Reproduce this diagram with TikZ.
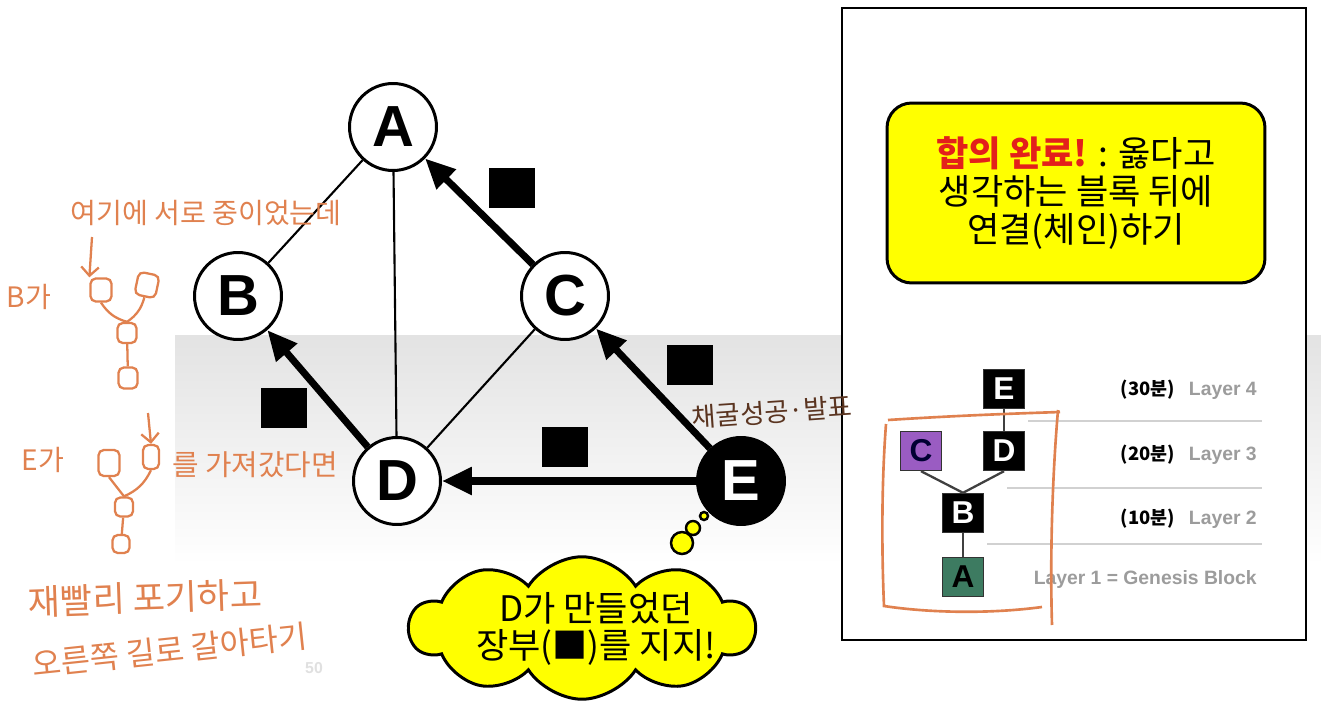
\documentclass[tikz,border=0pt]{standalone}
\usepackage{fontspec}
\setmainfont{Noto Sans CJK KR}
\newfontfamily\arialfont{Liberation Sans}
\usetikzlibrary{arrows.meta,positioning,shapes.symbols}
\definecolor{pen}{HTML}{E0814F}
\definecolor{penbrown}{HTML}{5A3420}
\definecolor{alarm}{HTML}{E3201B}
\definecolor{chainpurple}{HTML}{9A5CC2}
\definecolor{chaingreen}{HTML}{3D7B61}
\definecolor{boxyellow}{HTML}{FFFF00}
\definecolor{layergray}{HTML}{9C9C9C}
\newcommand{\minutetxt}[1]{{\color{black}\normalfont\bfseries\fontsize{10.5}{12}\selectfont #1}}
\tikzset{
  peer/.style={circle, draw, line width=1.7pt, fill=white, minimum size=1.74cm,
               inner sep=0pt, font=\arialfont\bfseries\fontsize{33}{33}\selectfont},
  ledger/.style={fill=black, minimum width=0.92cm, minimum height=0.8cm, inner sep=0pt},
  link/.style={line width=1.2pt},
  flowarrow/.style={line width=4pt, -{Triangle[length=17pt, width=15pt]}},
  block/.style={draw=black!80, line width=0.8pt, fill=black, text=white,
                minimum width=0.82cm, minimum height=0.78cm, inner sep=0pt,
                font=\arialfont\bfseries\fontsize{18}{18}\selectfont},
  chainlink/.style={line width=1.3pt, black!75},
  layer/.style={anchor=east, inner sep=0pt, text=layergray,
                font=\arialfont\bfseries\fontsize{11}{13}\selectfont},
  sep/.style={black!18, line width=1pt},
  consensus/.style={draw, line width=1.7pt, fill=boxyellow, rounded corners=14pt,
                    minimum width=7.56cm, minimum height=3.6cm, align=center,
                    font=\fontsize{20}{21.5}\selectfont},
  thought/.style={cloud, cloud puffs=10, cloud puff arc=115, cloud ignores aspect,
                  draw, line width=1.7pt, fill=boxyellow, minimum width=6.9cm,
                  minimum height=2.85cm, inner sep=0pt},
  thoughttext/.style={align=center, inner sep=0pt, font=\fontsize{20}{21}\selectfont},
  bubble/.style={circle, draw, line width=1.4pt, fill=boxyellow, inner sep=0pt},
  hand/.style={text=pen, inner sep=0pt},
  sketch/.style={draw=pen, line width=1.3pt, minimum width=0.42cm,
                 minimum height=0.46cm, inner sep=0pt, rounded corners=3pt},
  sketchline/.style={pen, line width=1.3pt}
}

\begin{document}
\begin{tikzpicture}[x=0.02cm, y=-0.02cm]
  \useasboundingbox (0,0) rectangle (1321,726);
  \shade[top color=black!11, bottom color=white] (175,335) rectangle (1321,565);

  \node[peer] (a) at (393,127) {A};
  \node[peer] (b) at (238,296) {B};
  \node[peer] (c) at (565,296) {C};
  \node[peer] (d) at (397,481) {D};
  \node[peer, fill=black, text=white] (e) at (741,481) {E};
  \draw[link] (a) -- (b);
  \draw[link] (a) -- (d);
  \draw[link] (c) -- (d);
  \draw[flowarrow] (c) -- (a);
  \draw[flowarrow] (d) -- (b);
  \draw[flowarrow] (e) -- (c);
  \draw[flowarrow] (e) -- (d);
  \node[ledger] (l1) at (512,188) {};
  \node[ledger] (l2) at (284,408) {};
  \node[ledger] (l3) at (690,365) {};
  \node[ledger] (l4) at (565,447) {};

  \node[bubble, minimum size=0.44cm] (p1) at (682,543) {};
  \node[bubble, minimum size=0.28cm] (p2) at (693,528) {};
  \node[bubble, minimum size=0.16cm] (p3) at (704,516) {};
  \node[thought] (idea) at (582,628) {};
  \node[thoughttext] (ideatext) at (596,629) {D가 만들었던\\장부(■)를 지지!};

  \draw[line width=1.5pt, fill=white] (842,8) rectangle (1306,640);
  \node[consensus] (goal) at (1076,193)
    {{\bfseries\color{alarm}합의 완료!} : 옳다고\\생각하는 블록 뒤에\\연결(체인)하기};

  \draw[sep] (1028,421) -- (1262,421);
  \draw[sep] (1007,488) -- (1262,488);
  \draw[sep] (987,544) -- (1262,544);
  \node[block] (ke) at (1004,389) {E};
  \node[block, fill=chainpurple, text=black!80!blue] (kc) at (921,451) {C};
  \node[block] (kd) at (1004,451) {D};
  \node[block] (kb) at (963,513) {B};
  \node[block, fill=chaingreen, text=black] (ka) at (963,577) {A};
  \draw[chainlink] (ke) -- (kd);
  \draw[chainlink] (kc.south) -- (kb.north);
  \draw[chainlink] (kd.south) -- (kb.north);
  \draw[chainlink] (kb) -- (ka);
  \node[layer] (lay4) at (1257,390) {\minutetxt{(30분)}\hspace{8pt}Layer 4};
  \node[layer] (lay3) at (1257,455) {\minutetxt{(20분)}\hspace{8pt}Layer 3};
  \node[layer] (lay2) at (1257,519) {\minutetxt{(10분)}\hspace{8pt}Layer 2};
  \node[layer] (lay1) at (1257,579) {Layer 1 = Genesis Block};

  \draw[pen, line width=1.5pt] (888,420) .. controls (950,416) and (1000,414) .. (1060,412);
  \draw[pen, line width=1.5pt] (886,424) .. controls (881,490) and (882,560) .. (884,606)
    .. controls (930,613) and (990,614) .. (1042,607);
  \draw[pen, line width=1.5pt] (1058,410) .. controls (1052,480) and (1050,560) .. (1052,625);

  \node[text=penbrown, inner sep=0pt, rotate=4, font=\fontsize{15}{15}\selectfont]
    (mined) at (772,412) {채굴성공·발표};

  \node[hand, font=\fontsize{16}{16}\selectfont] (n1) at (206,213) {여기에 서로 중이었는데};
  \node[hand, font=\fontsize{16}{16}\selectfont] (n2) at (29,297) {B가};
  \node[sketch] (s1a) at (101,290) {};
  \node[sketch, rotate=-12] (s1b) at (147,285) {};
  \node[sketch, minimum width=0.38cm, minimum height=0.4cm] (s1c) at (127,333) {};
  \node[sketch, minimum width=0.38cm, minimum height=0.42cm] (s1d) at (128,378) {};
  \coordinate (s1top) at (92,237);
  \draw[sketchline, -{Straight Barb[length=5pt]}] (s1top) -- (s1a.north west);
  \draw[sketchline] (s1a.south) to[bend right=20] (s1c.north);
  \draw[sketchline] (s1b.south) to[bend left=20] (s1c.north);
  \draw[sketchline] (s1c) -- (s1d);

  \node[hand, font=\fontsize{16}{16}\selectfont] (n3) at (43,460) {E가};
  \node[sketch, minimum height=0.52cm] (s2a) at (109,463) {};
  \node[sketch, minimum width=0.32cm, minimum height=0.48cm] (s2b) at (151,457) {};
  \node[sketch, minimum width=0.36cm, minimum height=0.38cm] (s2c) at (124,507) {};
  \node[sketch, minimum width=0.34cm, minimum height=0.36cm] (s2d) at (121,544) {};
  \coordinate (s2top) at (148,413);
  \draw[sketchline, -{Straight Barb[length=5pt]}] (s2top) -- (s2b.north);
  \draw[sketchline] (s2a.south) -- (s2c.north);
  \draw[sketchline] (s2b.south) to[bend left=20] (s2c.north);
  \draw[sketchline] (s2c) -- (s2d);
  \node[hand, font=\fontsize{16.4}{17}\selectfont] (n4) at (255,465) {를 가져갔다면};
  \node[hand, rotate=2, font=\fontsize{20}{20}\selectfont] (n5) at (145,598) {재빨리 포기하고};
  \node[hand, rotate=6, font=\fontsize{18}{19}\selectfont] (n6) at (170,650) {오른쪽 길로 갈아타기};
  \node[text=black!12, font=\arialfont\bfseries\fontsize{9}{9}\selectfont] (page) at (314,668) {50};
\end{tikzpicture}
\end{document}
